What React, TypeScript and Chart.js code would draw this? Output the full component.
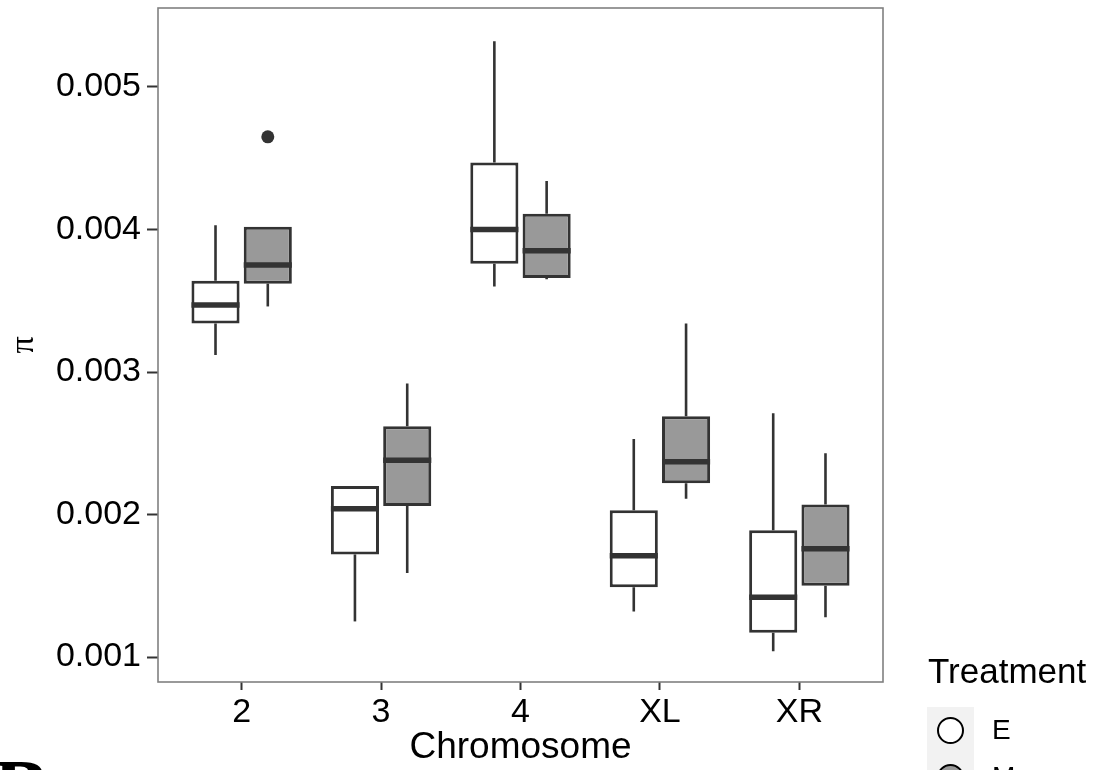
import React, { useEffect, useRef } from 'react';
import { Chart, registerables } from 'chart.js';

Chart.register(...registerables);

const categories = ['2', '3', '4', 'XL', 'XR'];
const yTicks = [0.001, 0.002, 0.003, 0.004, 0.005];

const eMin = [0.00312, 0.00125, 0.0036, 0.00132, 0.00104];
const eQ1 = [0.00334, 0.00172, 0.00376, 0.00149, 0.00117];
const eMedian = [0.00347, 0.00204, 0.004, 0.00171, 0.00142];
const eQ3 = [0.00364, 0.0022, 0.00447, 0.00203, 0.00189];
const eMax = [0.00403, 0.0022, 0.00532, 0.00253, 0.00271];
const eOutliers: number[][] = [[], [], [], [], []];

const mMin = [0.00346, 0.00159, 0.00365, 0.00211, 0.00128];
const mQ1 = [0.00362, 0.00206, 0.00366, 0.00222, 0.0015];
const mMedian = [0.00375, 0.00238, 0.00385, 0.00237, 0.00176];
const mQ3 = [0.00402, 0.00262, 0.00411, 0.00269, 0.00207];
const mMax = [0.00402, 0.00292, 0.00434, 0.00334, 0.00243];
const mOutliers: number[][] = [[0.00465], [], [], [], []];

const LINE = '#333333';
const SANS = "'Liberation Sans', Arial, Helvetica, sans-serif";

const stats = [
  { min: eMin, med: eMedian, max: eMax, q1: eQ1, q3: eQ3, out: eOutliers },
  { min: mMin, med: mMedian, max: mMax, q1: mQ1, q3: mQ3, out: mOutliers },
];

const boxPlugin = {
  id: 'boxParts',
  beforeDatasetsDraw(chart: any) {
    const ctx = chart.ctx;
    const y = chart.scales.y;
    ctx.save();
    ctx.strokeStyle = LINE;
    ctx.lineWidth = 2.6;
    stats.forEach((s, di) => {
      const meta = chart.getDatasetMeta(di);
      meta.data.forEach((bar: any, i: number) => {
        ctx.beginPath();
        ctx.moveTo(bar.x, y.getPixelForValue(s.q3[i]));
        ctx.lineTo(bar.x, y.getPixelForValue(s.max[i]));
        ctx.moveTo(bar.x, y.getPixelForValue(s.q1[i]));
        ctx.lineTo(bar.x, y.getPixelForValue(s.min[i]));
        ctx.stroke();
      });
    });
    ctx.restore();
  },
  afterDatasetsDraw(chart: any) {
    const ctx = chart.ctx;
    const y = chart.scales.y;
    ctx.save();
    ctx.strokeStyle = LINE;
    ctx.fillStyle = LINE;
    ctx.lineWidth = 5.5;
    stats.forEach((s, di) => {
      const meta = chart.getDatasetMeta(di);
      meta.data.forEach((bar: any, i: number) => {
        const py = y.getPixelForValue(s.med[i]);
        ctx.beginPath();
        ctx.moveTo(bar.x - bar.width / 2, py);
        ctx.lineTo(bar.x + bar.width / 2, py);
        ctx.stroke();
        s.out[i].forEach((v) => {
          ctx.beginPath();
          ctx.arc(bar.x, y.getPixelForValue(v), 6.5, 0, Math.PI * 2);
          ctx.fill();
        });
      });
    });
    ctx.restore();
  },
  afterDraw(chart: any) {
    const ctx = chart.ctx;
    const a = chart.chartArea;
    ctx.save();
    // panel border
    ctx.strokeStyle = '#808080';
    ctx.lineWidth = 1.6;
    ctx.strokeRect(a.left, a.top, a.right - a.left, a.bottom - a.top);
    // legend
    ctx.fillStyle = '#000';
    ctx.font = `35px ${SANS}`;
    ctx.textAlign = 'left';
    ctx.textBaseline = 'alphabetic';
    ctx.fillText('Treatment', 928, 683);
    chart.data.datasets.forEach((ds: any, i: number) => {
      const ky = 707 + i * 47;
      ctx.fillStyle = '#f2f2f2';
      ctx.fillRect(927, ky, 47, 47);
      ctx.beginPath();
      ctx.arc(950.5, ky + 23.5, 12.5, 0, Math.PI * 2);
      ctx.fillStyle = ds.backgroundColor;
      ctx.fill();
      ctx.lineWidth = 2;
      ctx.strokeStyle = '#000';
      ctx.stroke();
      ctx.fillStyle = '#000';
      ctx.font = `28px ${SANS}`;
      ctx.textBaseline = 'middle';
      ctx.fillText(ds.label, 992, ky + 24);
    });
    // panel tag
    ctx.font = "bold 82px 'Liberation Serif', serif";
    ctx.textBaseline = 'alphabetic';
    ctx.fillStyle = '#000';
    ctx.fillText('B', -6, 816);
    ctx.restore();
  },
};

export default function App() {
  const ref = useRef<HTMLCanvasElement | null>(null);

  useEffect(() => {
    if (!ref.current) return;
    Chart.defaults.font.family = SANS;
    const mk = (label: string, q1: number[], q3: number[], bg: string) => ({
      label,
      data: categories.map((_, i) => ({ x: i, y: [q1[i], q3[i]] })),
      backgroundColor: bg,
      borderColor: LINE,
      borderWidth: 3,
      borderSkipped: false,
      categoryPercentage: 0.75,
      barPercentage: 0.92,
    });
    const chart = new Chart(ref.current, {
      type: 'bar',
      data: {
        datasets: [mk('E', eQ1, eQ3, '#ffffff'), mk('M', mQ1, mQ3, '#999999')] as any,
      },
      options: {
        responsive: false,
        animation: false,
        layout: { padding: { left: 0, top: 8, right: 216, bottom: 0 } },
        plugins: { legend: { display: false }, tooltip: { enabled: false } },
        scales: {
          x: {
            type: 'linear',
            min: -0.6,
            max: 4.6,
            offset: false,
            afterBuildTicks: (s: any) => {
              s.ticks = categories.map((_, i) => ({ value: i }));
            },
            afterFit: (s: any) => {
              s.height = 88;
              s.paddingLeft = 0;
              s.paddingRight = 0;
            },
            ticks: {
              callback: (v: any) => categories[Number(v)] ?? '',
              font: { size: 34 },
              color: '#000',
              padding: 2,
              maxRotation: 0,
              autoSkip: false,
            },
            grid: { offset: false, drawOnChartArea: false, drawTicks: true, tickLength: 8, tickWidth: 2, tickColor: LINE },
            border: { display: false },
            title: { display: true, text: 'Chromosome', font: { size: 37 }, color: '#000', padding: { top: 0, bottom: 0 } },
          },
          y: {
            type: 'linear',
            min: 0.000825,
            max: 0.005554,
            afterBuildTicks: (s: any) => {
              s.ticks = yTicks.map((v) => ({ value: v }));
            },
            afterFit: (s: any) => {
              s.width = 158;
              s.paddingTop = 0;
              s.paddingBottom = 0;
            },
            ticks: {
              callback: (v: any) => Number(v).toFixed(3),
              font: { size: 34 },
              color: '#000',
              padding: 6,
            },
            grid: { drawOnChartArea: false, drawTicks: true, tickLength: 11, tickWidth: 2, tickColor: LINE },
            border: { display: false },
            title: {
              display: true,
              text: 'π',
              font: { family: "'Liberation Serif', serif", size: 34 },
              color: '#000',
              padding: { top: 4, bottom: 0 },
            },
          },
        },
      } as any,
      plugins: [boxPlugin],
    });
    return () => chart.destroy();
  }, []);

  return (
    <div style={{ position: 'fixed', left: 0, top: 0, width: 1099, height: 770, overflow: 'hidden', background: '#fff' }}>
      <canvas ref={ref} width={1099} height={770} style={{ display: 'block' }} />
    </div>
  );
}
